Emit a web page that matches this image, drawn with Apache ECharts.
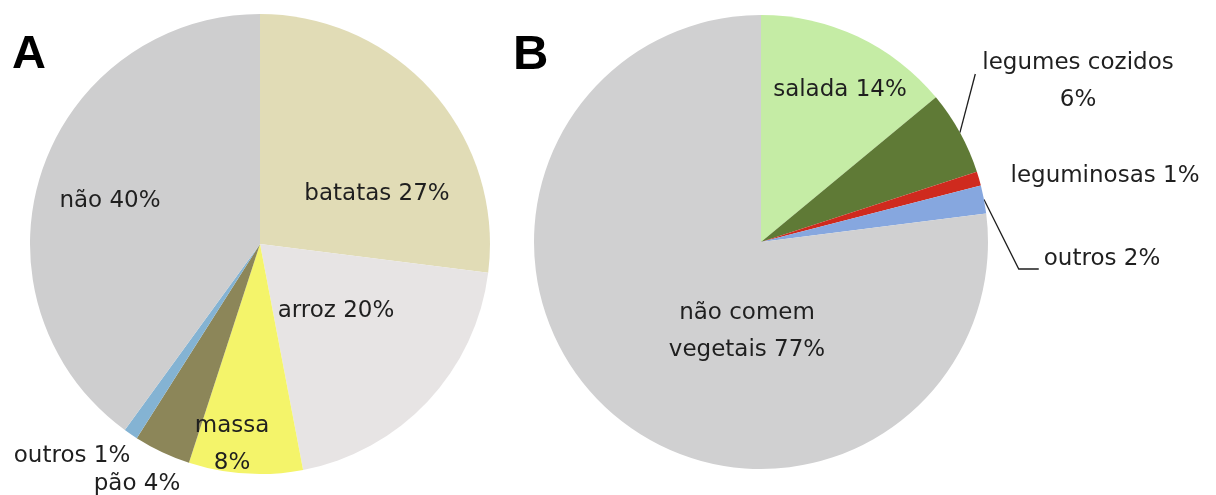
<!DOCTYPE html>
<html>
<head>
<meta charset="utf-8">
<script src="https://cdn.jsdelivr.net/npm/echarts@6/dist/echarts.min.js"></script>
<style>
  html, body { margin: 0; padding: 0; background: #fff; }
  #chart { width: 1216px; height: 495px; }
</style>
</head>
<body>
<div id="chart"></div>
<script>
// Panel A: acompanhamentos
const namesA = ['batatas', 'arroz', 'massa', 'pão', 'outros', 'não'];
const valuesA = [27, 20, 8, 4, 1, 40];
const colorsA = ['#e1dcb6', '#e7e4e4', '#f4f46a', '#8c8659', '#84b3d3', '#cececf'];

// Panel B: vegetais
const namesB = ['salada', 'legumes cozidos', 'leguminosas', 'outros', 'não comem\nvegetais'];
const valuesB = [14, 6, 1, 2, 77];
const colorsB = ['#c5eca5', '#5f7a36', '#cf2a1e', '#86a7df', '#d0d0d1'];

// names whose percentage is written on its own line
const pctOnNewLine = ['massa', 'legumes cozidos'];

// label anchor points (centre of each text block)
const spotsA = {
  'batatas': [377, 194], 'arroz': [336, 311], 'massa': [232, 445],
  'pão': [137, 484], 'outros': [72, 456], 'não': [110, 201]
};
const spotsB = {
  'salada': [840, 90], 'legumes cozidos': [1078, 82], 'leguminosas': [1105, 176],
  'outros': [1102, 259], 'não comem\nvegetais': [747, 332]
};
// leader lines drawn for the small slices of panel B
const leadersB = { 'legumes cozidos': 'riser', 'outros': 'elbow' };

const labelText = { fontFamily: 'DejaVu Sans', fontSize: 23, color: '#1f1f1f', lineHeight: 37 };

function labelFor(name, value) {
  return pctOnNewLine.includes(name) ? name + '\n' + value + '%' : name + ' ' + value + '%';
}

function buildData(names, values, colors, leaders) {
  return names.map((n, i) => {
    const item = { name: n, value: values[i], itemStyle: { color: colors[i] } };
    if (leaders && leaders[n]) {
      item.label = { position: 'outside' };
      item.labelLine = { show: true, length: 10, length2: 10, lineStyle: { color: '#1e1e1e', width: 1.3 } };
    }
    return item;
  });
}

function placeLabels(names, spots, leaders) {
  return function (params) {
    const name = names[params.dataIndex];
    const [x, y] = spots[name];
    const out = { x: x, y: y, align: 'center', verticalAlign: 'middle' };
    const kind = leaders && leaders[name];
    if (kind && params.labelLinePoints) {
      const start = params.labelLinePoints[0];
      const left = x - params.labelRect.width / 2;
      out.labelLinePoints = kind === 'riser'
        ? [start, [left - 7, y - 8]]
        : [start, [left - 25, y + 10], [left - 5, y + 10]];
    }
    return out;
  };
}

function pieSeries(names, values, colors, center, radius, spots, leaders) {
  return {
    type: 'pie',
    center: center,
    radius: radius,
    startAngle: 90,
    clockwise: true,
    silent: true,
    avoidLabelOverlap: false,
    itemStyle: { borderWidth: 0 },
    label: Object.assign({
      show: true,
      position: 'inside',
      formatter: p => labelFor(p.name, p.value)
    }, labelText),
    labelLine: { show: false },
    labelLayout: placeLabels(names, spots, leaders),
    data: buildData(names, values, colors, leaders)
  };
}

const chart = echarts.init(document.getElementById('chart'), null, { renderer: 'canvas' });
chart.setOption({
  animation: false,
  backgroundColor: '#ffffff',
  title: [
    { text: 'A', left: 12, top: 32, padding: 0,
      textStyle: { fontFamily: 'Liberation Sans', fontWeight: 'bold', fontSize: 47, color: '#000' } },
    { text: 'B', left: 513, top: 31, padding: 0,
      textStyle: { fontFamily: 'Liberation Sans', fontWeight: 'bold', fontSize: 49, color: '#000' } }
  ],
  series: [
    pieSeries(namesA, valuesA, colorsA, [260, 244], 230, spotsA, null),
    pieSeries(namesB, valuesB, colorsB, [761, 242], 227, spotsB, leadersB)
  ]
});
</script>
</body>
</html>
